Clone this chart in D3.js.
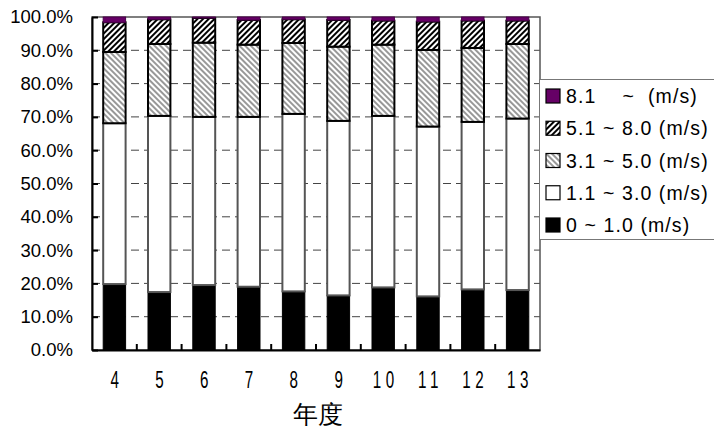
<!DOCTYPE html>
<html>
<head>
<meta charset="utf-8">
<script src="https://cdn.jsdelivr.net/npm/d3@7"></script>
<style>
  html, body { margin: 0; padding: 0; background: #fff; }
  svg { display: block; }
  text { font-family: "Liberation Sans", Arial, sans-serif; }
</style>
</head>
<body>
<svg id="chart" width="714" height="430"></svg>
<script>
// Wind-speed class shares by year (percent of observations)
const years = ["4", "5", "6", "7", "8", "9", "10", "11", "12", "13"];
const classes = ["0 ~ 1.0 (m/s)", "1.1 ~ 3.0 (m/s)", "3.1 ~ 5.0 (m/s)", "5.1 ~ 8.0 (m/s)", "8.1    ~  (m/s)"];
const calm     = [19.8, 17.4, 19.5, 19.0, 17.6, 16.4, 18.8, 16.1, 18.2, 18.0];
const light    = [48.3, 52.9, 50.5, 51.0, 53.3, 52.4, 51.5, 51.0, 50.3, 51.5];
const gentle   = [21.4, 21.6, 22.3, 21.7, 21.3, 22.3, 21.4, 23.0, 22.2, 22.4];
const moderate = [8.9, 7.4, 7.4, 7.4, 7.1, 8.0, 7.2, 8.5, 8.2, 7.0];
const strong   = [1.6, 0.7, 0.3, 0.9, 0.7, 0.9, 1.1, 1.4, 1.1, 1.1];
const yTicks = [0, 0.1, 0.2, 0.3, 0.4, 0.5, 0.6, 0.7, 0.8, 0.9, 1.0];
const xTitle = "年度";

const series = [calm, light, gentle, moderate, strong];
const keys = ["calm", "light", "gentle", "moderate", "strong"];
const rows = years.map((yr, i) => {
  const r = { year: yr };
  keys.forEach((k, j) => { r[k] = series[j][i] / 100; });
  return r;
});

const svg = d3.select("#chart");
const plot = { left: 92, right: 540, top: 17, bottom: 350 };

const x = d3.scaleBand().domain(years).range([plot.left, plot.right])
  .paddingInner(0.5).paddingOuter(0.25);
const y = d3.scaleLinear().domain([0, 1]).range([plot.bottom, plot.top]);

// hatch patterns
const defs = svg.append("defs");
function hatch(id, angle, width, color) {
  const p = defs.append("pattern").attr("id", id)
    .attr("patternUnits", "userSpaceOnUse").attr("width", 4).attr("height", 4)
    .attr("patternTransform", `rotate(${angle})`);
  p.append("rect").attr("width", 4).attr("height", 4).attr("fill", "#fff");
  p.append("line").attr("x1", 1).attr("y1", 0).attr("x2", 1).attr("y2", 4)
    .attr("stroke", color).attr("stroke-width", width);
}
hatch("hatchLight", -45, 1.1, "#444");
hatch("hatchDense", 45, 2, "#000");

const styles = {
  calm:     { fill: "#000", stroke: "#000", sw: 1 },
  light:    { fill: "#fff", stroke: "#555", sw: 2 },
  gentle:   { fill: "url(#hatchLight)", stroke: "#000", sw: 2 },
  moderate: { fill: "url(#hatchDense)", stroke: "#000", sw: 2 },
  strong:   { fill: "#660066", stroke: "#4a004a", sw: 1 }
};

// grid
svg.append("g").selectAll("line").data(yTicks.slice(1, -1)).join("line")
  .attr("x1", plot.left).attr("x2", plot.right)
  .attr("y1", d => y(d)).attr("y2", d => y(d))
  .attr("stroke", "#444").attr("stroke-width", 1).attr("stroke-dasharray", "8,5");

// plot frame (top/right)
svg.append("rect").attr("x", plot.left).attr("y", plot.top)
  .attr("width", plot.right - plot.left).attr("height", plot.bottom - plot.top)
  .attr("fill", "none").attr("stroke", "#555").attr("stroke-width", 1.5);

// stacked bars
const stacked = d3.stack().keys(keys)(rows);
svg.append("g").selectAll("g").data(stacked).join("g")
  .each(function (layer) {
    const st = styles[layer.key];
    d3.select(this).selectAll("rect").data(layer).join("rect")
      .attr("x", d => x(d.data.year))
      .attr("width", x.bandwidth())
      .attr("y", d => y(d[1]))
      .attr("height", d => y(d[0]) - y(d[1]))
      .attr("fill", st.fill)
      .attr("stroke", st.stroke)
      .attr("stroke-width", st.sw);
  });

// y axis
const yAxis = svg.append("g").attr("transform", `translate(${plot.left},0)`)
  .call(d3.axisLeft(y).tickValues(yTicks).tickFormat(d3.format(".1%"))
    .tickSizeInner(-6).tickSizeOuter(0).tickPadding(19));
yAxis.select(".domain").attr("stroke", "#000").attr("stroke-width", 2);
yAxis.selectAll(".tick line").attr("stroke", "#000").attr("stroke-width", 2);
yAxis.selectAll(".tick text").attr("font-size", 18.5).attr("fill", "#000")
  .attr("font-family", "'Liberation Sans', Arial, sans-serif");

// x axis
const xAxis = svg.append("g").attr("transform", `translate(0,${plot.bottom})`)
  .call(d3.axisBottom(x).tickSize(0).tickPadding(0));
xAxis.select(".domain").attr("stroke", "#000").attr("stroke-width", 2);
xAxis.selectAll(".tick text")
  .attr("font-size", 23).attr("fill", "#000").attr("letter-spacing", 7)
  .attr("text-anchor", "middle")
  .attr("dy", 0).attr("y", 0)
  .attr("transform", "translate(2.5,38) scale(0.66,1)");
// category separators
svg.append("g").selectAll("line").data(years.slice(1)).join("line")
  .attr("x1", d => x(d) - x.step() * x.paddingInner() / 2)
  .attr("x2", d => x(d) - x.step() * x.paddingInner() / 2)
  .attr("y1", plot.bottom).attr("y2", plot.bottom - 6)
  .attr("stroke", "#000").attr("stroke-width", 2);

// axis title
svg.append("text").attr("x", (plot.left + plot.right) / 2 + 2).attr("y", 423)
  .attr("text-anchor", "middle").attr("font-size", 25)
  .attr("font-family", "'Noto Sans CJK JP', sans-serif").text(xTitle);

// legend
const lg = svg.append("g");
lg.append("rect").attr("x", 539.5).attr("y", 79.5).attr("width", 200).attr("height", 160)
  .attr("fill", "#fff").attr("stroke", "#777").attr("stroke-width", 1);
const legendOrder = keys.slice().reverse();
const ly = d3.scalePoint().domain(legendOrder).range([96, 225]);
const item = lg.selectAll("g").data(legendOrder).join("g")
  .attr("transform", d => `translate(546,${ly(d)})`);
item.append("rect").attr("x", 0).attr("y", -7).attr("width", 14).attr("height", 14)
  .attr("fill", d => styles[d].fill).attr("stroke", "#000").attr("stroke-width", 1.2);
item.append("text").attr("x", 20).attr("dy", "0.36em")
  .attr("font-size", 19.5).attr("letter-spacing", 1.1)
  .style("white-space", "pre")
  .text(d => classes[keys.indexOf(d)]);
</script>
</body>
</html>
